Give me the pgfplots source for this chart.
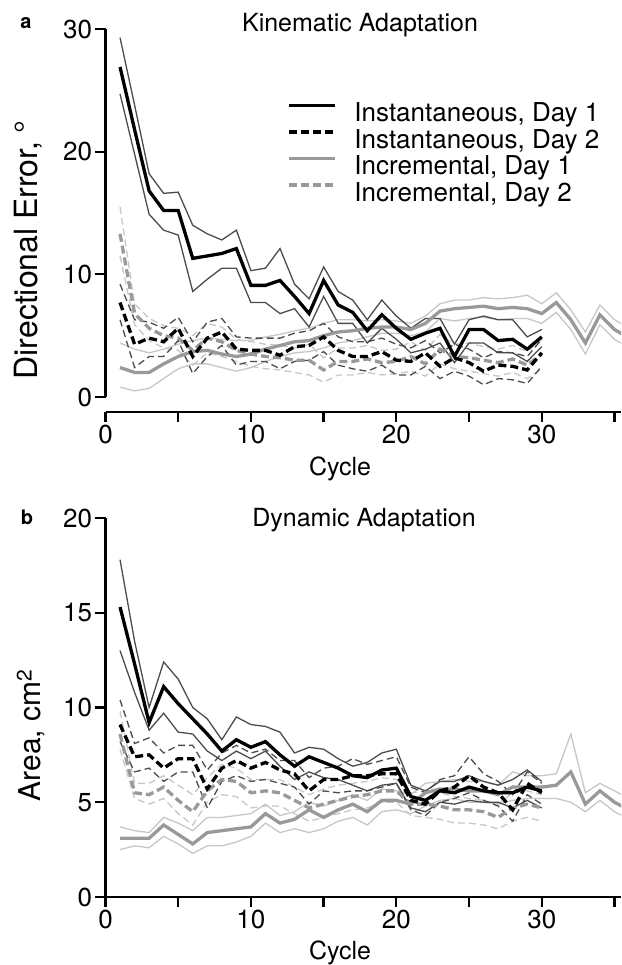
\documentclass[border=0pt]{standalone}
\usepackage{fontspec}
\setmainfont{TeX Gyre Heros}
\usepackage{pgfplots}
\usepackage{pgfplotstable}
\pgfplotsset{compat=1.18}

% c = cycle; i = instantaneous, r = incremental; 1/2 = day; m/u/l = mean, upper, lower
\pgfplotstableread{
c  i1m  i1u  i1l  i2m i2u i2l r1m r1u r1l r2m  r2u  r2l
1  26.9 29.3 24.7 7.7 9.2 6.3 2.4 4.4 0.8 13.3 15.5 11.5
2  21.8 23.8 19.8 4.3 6.3 2.4 2.0 3.9 0.5 6.8  7.6  5.9
3  16.8 18.2 14.9 4.8 6.1 3.3 2.0 3.6 0.7 5.6  6.4  4.6
4  15.2 16.6 13.6 4.5 5.6 3.3 2.7 3.9 1.5 5.0  5.8  4.0
5  15.2 16.7 13.2 5.6 6.5 4.6 3.3 4.3 2.3 4.8  5.6  3.8
6  11.3 14.0 8.6  3.3 4.5 1.9 3.7 4.6 2.7 3.8  5.0  2.6
7  11.5 13.3 9.6  4.8 6.1 3.3 3.8 4.8 2.7 4.8  6.0  3.6
8  11.7 12.8 10.5 5.3 6.4 4.2 3.5 4.7 2.4 4.5  5.7  3.3
9  12.1 13.6 10.5 3.9 4.9 2.6 3.3 4.6 2.1 3.8  4.7  2.9
10 9.1  10.3 7.7  3.8 4.8 2.9 3.5 4.6 2.4 3.5  4.5  2.5
11 9.1  10.5 7.7  3.8 4.8 2.9 3.9 4.9 2.9 3.3  4.3  2.3
12 9.5  12.1 6.8  3.4 4.8 2.3 4.2 5.1 3.3 3.2  4.2  2.2
13 8.2  9.2  7.2  4.1 5.2 2.9 4.5 5.4 3.6 3.0  4.0  2.0
14 6.8  8.0  5.7  4.2 5.4 3.0 4.6 5.6 3.7 3.0  4.3  1.8
15 9.5  10.6 8.2  4.9 6.0 3.7 5.0 6.0 4.0 2.2  3.2  1.2
16 7.5  8.6  6.0  3.8 4.9 2.6 5.3 6.3 4.4 2.9  4.0  1.8
17 6.9  7.9  6.0  3.3 4.5 2.3 5.4 6.3 4.6 2.9  4.0  1.8
18 5.4  6.3  4.4  3.3 4.5 2.1 5.6 6.2 4.9 3.1  4.2  2.0
19 6.7  7.9  5.6  3.7 4.8 2.6 5.7 6.3 5.2 2.8  3.8  1.8
20 5.6  6.6  4.7  3.0 4.3 1.8 5.7 6.2 5.2 2.9  3.9  1.9
21 4.7  5.6  3.6  2.9 4.0 1.8 5.5 6.0 5.0 3.3  4.5  2.1
22 5.2  6.4  3.9  3.6 4.6 2.5 6.0 6.6 5.3 2.7  3.8  1.7
23 5.6  6.4  4.4  2.5 3.6 1.5 7.0 7.6 6.4 3.9  5.1  2.7
24 3.3  4.3  2.8  3.2 4.3 2.1 7.2 7.9 6.2 3.3  4.3  2.3
25 5.5  6.3  4.4  2.8 3.9 1.7 7.3 7.9 6.4 3.2  4.4  2.1
26 5.5  6.6  4.4  2.1 3.2 1.0 7.4 8.1 6.5 3.0  4.1  1.9
27 4.6  6.3  3.6  2.6 3.7 1.5 7.2 8.0 6.3 2.8  3.9  1.7
28 4.7  6.3  3.6  2.5 3.6 1.4 7.3 8.1 6.4 3.1  4.2  2.0
29 3.9  4.9  2.9  2.2 3.3 1.1 7.2 8.3 6.4 2.6  3.7  1.5
30 4.9  5.5  4.1  3.6 4.7 2.5 6.8 7.6 6.0 3.5  4.7  2.3
31 nan  nan  nan  nan nan nan 7.7 8.5 6.9 nan  nan  nan
32 nan  nan  nan  nan nan nan 6.3 7.1 5.5 nan  nan  nan
33 nan  nan  nan  nan nan nan 4.4 5.3 3.5 nan  nan  nan
34 nan  nan  nan  nan nan nan 6.7 7.5 5.9 nan  nan  nan
35 nan  nan  nan  nan nan nan 5.5 6.3 4.7 nan  nan  nan
36 nan  nan  nan  nan nan nan 4.8 5.6 4.0 nan  nan  nan
}\kin

\pgfplotstableread{
c  i1m  i1u  i1l  i2m i2u  i2l r1m r1u r1l r2m r2u r2l
1  15.3 17.8 13.0 9.1 10.4 8.2 3.1 3.7 2.5 8.6 9.8 7.8
2  12.3 13.5 10.8 7.4 8.1  6.6 3.1 3.5 2.7 5.5 6.0 5.2
3  9.2  10.0 8.8  7.5 8.4  6.8 3.1 3.4 2.6 5.4 6.0 4.9
4  11.1 12.4 9.7  6.8 7.6  6.1 3.8 4.2 3.2 5.8 6.4 5.2
5  10.2 11.5 8.7  7.3 8.0  6.6 3.3 3.9 2.8 5.1 5.9 4.4
6  9.4  10.0 8.6  7.3 8.0  6.6 2.8 3.5 2.3 4.5 5.4 3.8
7  8.6  9.4  7.7  5.7 6.7  4.7 3.4 4.2 2.7 5.6 6.3 5.0
8  7.7  8.3  7.2  6.8 7.6  6.1 3.5 4.2 2.7 6.2 7.0 5.4
9  8.3  9.5  7.7  7.2 8.0  6.4 3.6 4.3 2.9 6.1 6.8 5.3
10 7.9  9.1  7.3  6.8 7.6  6.1 3.7 4.4 3.2 5.5 6.2 4.7
11 8.2  9.0  7.7  7.1 7.8  6.2 4.4 4.9 3.9 5.6 6.2 4.8
12 7.5  8.7  6.9  6.7 7.2  6.0 3.9 4.3 3.4 5.5 6.2 4.8
13 6.9  7.6  6.2  6.5 7.2  5.8 4.1 4.5 3.6 5.1 5.8 4.4
14 7.4  7.9  6.6  5.6 6.3  4.9 4.6 5.0 3.4 4.7 5.4 4.0
15 7.1  7.8  6.3  6.2 6.8  5.6 4.2 4.8 3.6 4.9 5.7 4.2
16 6.8  7.3  6.2  6.2 6.9  5.5 4.6 5.1 4.0 5.1 5.9 4.4
17 6.4  6.9  5.9  6.4 7.3  5.6 4.9 5.4 4.2 5.3 6.0 4.6
18 6.3  7.1  5.6  6.4 7.0  5.6 4.5 5.1 3.8 5.4 6.1 4.7
19 6.7  7.6  5.9  6.5 7.2  5.8 5.1 5.7 4.5 5.6 6.3 5.0
20 6.8  7.8  6.0  6.5 7.4  6.0 5.1 5.6 4.6 5.6 6.2 5.0
21 5.3  5.9  4.7  5.1 5.8  4.6 4.9 5.4 4.4 4.9 5.5 4.3
22 5.1  5.6  4.5  4.9 5.5  4.3 5.5 6.0 4.8 4.9 5.6 4.2
23 5.6  6.1  5.0  5.6 6.2  5.0 5.7 6.1 5.1 4.8 5.5 4.1
24 5.5  6.1  4.9  5.8 6.4  5.2 5.7 6.2 5.2 4.6 5.3 3.9
25 5.8  6.4  5.1  6.4 7.4  5.5 5.6 6.1 5.0 4.6 5.2 3.9
26 5.6  6.1  5.0  5.8 6.5  5.1 5.6 6.1 5.0 4.5 5.1 3.8
27 5.5  5.9  5.0  5.5 6.1  4.8 5.4 5.9 4.9 4.2 4.9 3.6
28 5.5  6.2  4.7  4.6 5.4  4.0 5.8 6.6 5.1 4.7 5.5 4.0
29 5.8  6.7  5.1  6.0 6.6  5.4 5.8 6.4 5.2 4.9 5.6 4.2
30 5.6  6.1  4.7  5.5 6.0  4.9 5.8 6.4 5.2 4.7 5.4 4.0
31 nan  nan  nan  nan nan  nan 5.9 6.5 5.2 nan nan nan
32 nan  nan  nan  nan nan  nan 6.6 8.6 5.0 nan nan nan
33 nan  nan  nan  nan nan  nan 4.9 5.5 4.5 nan nan nan
34 nan  nan  nan  nan nan  nan 5.6 6.0 5.1 nan nan nan
35 nan  nan  nan  nan nan  nan 5.0 5.6 4.5 nan nan nan
36 nan  nan  nan  nan nan  nan 4.6 5.2 4.1 nan nan nan
}\dyn

\definecolor{thinblk}{gray}{0.3}
\definecolor{incr}{gray}{0.6}
\definecolor{incrthin}{gray}{0.78}

\pgfplotsset{
  panel/.style={
    scale only axis, width=515.5pt,
    xmin=0, xmax=35.45,
    axis x line=bottom, axis y line=left,
    axis line style={-, line width=2.3pt},
    tick align=outside, major tick length=10pt,
    tick style={line width=2.3pt, black},
    xtick={0,5,...,35},
    tick label style={font=\fontsize{26}{26}\selectfont},
    /pgf/number format/assume math mode=true,
  },
  sethin/.style={line width=1.3pt, forget plot},
  semean/.style={line width=3.3pt, forget plot},
  thindash/.style={dash pattern=on 7pt off 4pt},
  thickdash/.style={dash pattern=on 8pt off 4pt},
}

\newcommand{\seriesplots}[1]{%
  \addplot[sethin, incrthin] table[x=c, y=r1u] {#1};
  \addplot[sethin, incrthin] table[x=c, y=r1l] {#1};
  \addplot[sethin, incrthin, thindash] table[x=c, y=r2u] {#1};
  \addplot[sethin, incrthin, thindash] table[x=c, y=r2l] {#1};
  \addplot[sethin, thinblk] table[x=c, y=i1u] {#1};
  \addplot[sethin, thinblk] table[x=c, y=i1l] {#1};
  \addplot[sethin, thinblk, thindash] table[x=c, y=i2u] {#1};
  \addplot[sethin, thinblk, thindash] table[x=c, y=i2l] {#1};
  \addplot[semean, incr] table[x=c, y=r1m] {#1};
  \addplot[semean, incr, thickdash] table[x=c, y=r2m] {#1};
  \addplot[semean, black] table[x=c, y=i1m] {#1};
  \addplot[semean, black, thickdash] table[x=c, y=i2m] {#1};
}

\begin{document}
\begin{tikzpicture}
\path[use as bounding box] (0,0) rectangle (621pt,965pt);

% panel a
\begin{axis}[panel,
  at={(105.5pt,568pt)}, anchor=south west, height=368pt,
  ymin=0, ymax=30, ytick={0,10,20,30},
  axis x line shift=15pt,
  xticklabels={0,,10,,20,,30,},
  xlabel={Cycle},
  xlabel style={at={(axis description cs:0.455,-0.212)}, anchor=base, font=\fontsize{25}{25}\selectfont},
  ylabel={Directional Error, °},
  ylabel style={at={(axis description cs:-0.150,0.40)}, anchor=center, rotate=0, font=\fontsize{32}{32}\selectfont},
  legend style={at={(axis description cs:0.352,0.80)}, anchor=north west,
    draw=none, fill=none, inner sep=0pt, row sep=2pt,
    font=\fontsize{26}{26}\selectfont,
    nodes={inner sep=0pt, text height=19pt, text depth=5.5pt},
    /tikz/every odd column/.append style={column sep=18pt}},
  legend cell align=left,
  legend image code/.code={\draw[#1] (0pt,9.5pt) -- (46pt,9.5pt);},
]
\addlegendimage{line width=3.3pt, black}
\addlegendimage{line width=3.3pt, black, thickdash}
\addlegendimage{line width=3.3pt, incr}
\addlegendimage{line width=3.3pt, incr, thickdash}
\seriesplots{\kin}
\legend{{Instantaneous, Day 1},{Instantaneous, Day 2},{Incremental, Day 1},{Incremental, Day 2}}
\end{axis}

% panel b
\begin{axis}[panel,
  at={(105.5pt,68pt)}, anchor=south west, height=379pt,
  ymin=0, ymax=20, ytick={0,5,10,15,20},
  xticklabels={0,,10,,\raisebox{5pt}{20},,30,},
  xlabel={Cycle},
  xlabel style={at={(axis description cs:0.455,-0.166)}, anchor=base, font=\fontsize{25}{25}\selectfont},
  ylabel={Area, cm\textsuperscript{2}},
  ylabel style={at={(axis description cs:-0.1445,0.427)}, anchor=center, rotate=0, font=\fontsize{30}{30}\selectfont},
]
\seriesplots{\dyn}
\end{axis}

\node[anchor=base, font=\fontsize{25}{25}\selectfont] at (360pt,933pt) {Kinematic Adaptation};
\node[anchor=base, font=\fontsize{25}{25}\selectfont] at (364pt,438pt) {Dynamic Adaptation};
\node[anchor=base, font=\fontsize{20}{20}\selectfont\bfseries] at (26pt,936pt) {a};
\node[anchor=base, font=\fontsize{20}{20}\selectfont\bfseries] at (27pt,440pt) {b};
\end{tikzpicture}
\end{document}
